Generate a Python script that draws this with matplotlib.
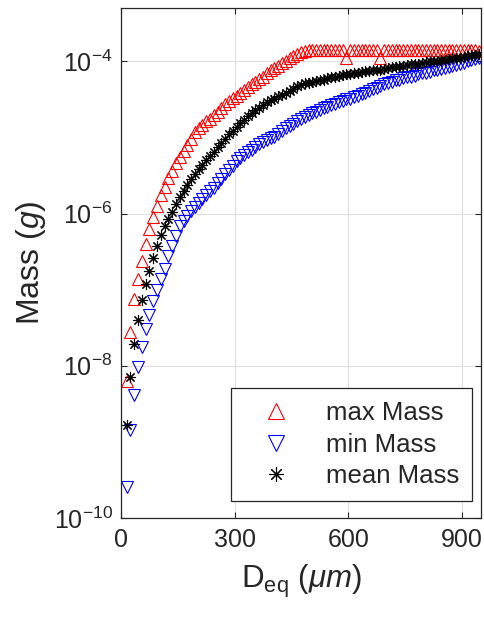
import numpy as np
import matplotlib
matplotlib.use('Agg')
import matplotlib.pyplot as plt
from matplotlib.ticker import LogFormatterMathtext, NullLocator

plt.rcParams['font.family'] = ['Liberation Sans', 'DejaVu Sans']
plt.rcParams['mathtext.fontset'] = 'custom'
plt.rcParams['mathtext.rm'] = 'Liberation Sans'
plt.rcParams['mathtext.it'] = 'Liberation Sans:italic'

# equivalent diameter bins (um)
d_eq = [15, 25, 35, 45, 55, 65, 75, 85, 95, 105,
        115, 125, 135, 145, 155, 165, 175, 185, 195, 205,
        215, 225, 235, 245, 255, 265, 275, 285, 295, 305,
        315, 325, 335, 345, 355, 365, 375, 385, 395, 405,
        415, 425, 435, 445, 455, 465, 475, 485, 495, 505,
        515, 525, 535, 545, 555, 565, 575, 585, 595, 605,
        615, 625, 635, 645, 655, 665, 675, 685, 695, 705,
        715, 725, 735, 745, 755, 765, 775, 785, 795, 805,
        815, 825, 835, 845, 855, 865, 875, 885, 895, 905,
        915, 925, 935, 945]

# log10 of mass (g)
log_max_mass = [-8.20, -7.56, -7.12, -6.86, -6.62, -6.40, -6.20, -6.04, -5.90, -5.76,
                -5.65, -5.53, -5.44, -5.34, -5.26, -5.18, -5.10, -5.02, -4.93, -4.88,
                -4.84, -4.79, -4.76, -4.70, -4.66, -4.62, -4.56, -4.52, -4.48, -4.45,
                -4.42, -4.38, -4.34, -4.30, -4.27, -4.23, -4.20, -4.16, -4.12, -4.09,
                -4.06, -4.02, -3.99, -3.96, -3.93, -3.90, -3.88, -3.86, -3.85, -3.85,
                -3.85, -3.85, -3.85, -3.85, -3.85, -3.85, -3.85, -3.85, -3.95, -3.85,
                -3.85, -3.85, -3.85, -3.85, -3.85, -3.85, -3.85, -3.95, -3.85, -3.85,
                -3.85, -3.85, -3.85, -3.85, -3.85, -3.85, -3.85, -3.85, -3.85, -3.85,
                -3.85, -3.85, -3.85, -3.85, -3.85, -3.85, -3.85, -3.85, -3.85, -3.85,
                -3.85, -3.85, -3.85, -3.86]

log_min_mass = [-9.59, -8.84, -8.39, -8.02, -7.75, -7.52, -7.33, -7.15, -7.00, -6.86,
                -6.73, -6.56, -6.43, -6.30, -6.17, -6.10, -6.03, -5.97, -5.91, -5.86,
                -5.81, -5.76, -5.71, -5.67, -5.60, -5.54, -5.48, -5.43, -5.37, -5.31,
                -5.27, -5.23, -5.19, -5.16, -5.12, -5.09, -5.06, -5.03, -5.01, -4.99,
                -4.95, -4.92, -4.88, -4.85, -4.82, -4.78, -4.76, -4.73, -4.70, -4.68,
                -4.66, -4.64, -4.62, -4.60, -4.58, -4.56, -4.54, -4.52, -4.50, -4.49,
                -4.47, -4.45, -4.43, -4.41, -4.39, -4.37, -4.35, -4.33, -4.30, -4.28,
                -4.27, -4.25, -4.24, -4.22, -4.21, -4.20, -4.19, -4.17, -4.16, -4.15,
                -4.14, -4.12, -4.11, -4.10, -4.09, -4.08, -4.06, -4.05, -4.03, -4.02,
                -4.00, -3.98, -3.97, -3.95]

log_mean_mass = [-8.78, -8.15, -7.72, -7.40, -7.13, -6.93, -6.76, -6.58, -6.43, -6.28,
                 -6.17, -6.07, -5.98, -5.88, -5.78, -5.70, -5.62, -5.55, -5.48, -5.42,
                 -5.36, -5.30, -5.24, -5.19, -5.13, -5.08, -5.02, -4.96, -4.91, -4.86,
                 -4.81, -4.77, -4.72, -4.68, -4.64, -4.61, -4.57, -4.54, -4.51, -4.49,
                 -4.46, -4.44, -4.41, -4.39, -4.36, -4.33, -4.31, -4.29, -4.28, -4.27,
                 -4.26, -4.25, -4.24, -4.22, -4.21, -4.20, -4.19, -4.18, -4.17, -4.17,
                 -4.16, -4.15, -4.14, -4.13, -4.13, -4.12, -4.11, -4.11, -4.10, -4.09,
                 -4.08, -4.07, -4.06, -4.06, -4.05, -4.04, -4.04, -4.03, -4.02, -4.01,
                 -4.00, -4.00, -3.99, -3.98, -3.98, -3.97, -3.96, -3.96, -3.95, -3.94,
                 -3.93, -3.92, -3.92, -3.91]

x = np.array(d_eq)
max_mass = 10.0 ** np.array(log_max_mass)
min_mass = 10.0 ** np.array(log_min_mass)
mean_mass = 10.0 ** np.array(log_mean_mass)

axis_col = '#262626'

fig = plt.figure(figsize=(4.85, 6.24), dpi=100)
ax = fig.add_axes([0.2495, 0.170, 0.742, 0.817])

ax.plot(x, max_mass, linestyle='none', marker='^', markersize=9,
        markerfacecolor='none', markeredgecolor='r', markeredgewidth=0.8, label='max Mass')
ax.plot(x, min_mass, linestyle='none', marker='v', markersize=9,
        markerfacecolor='none', markeredgecolor='b', markeredgewidth=0.8, label='min Mass')
ax.plot(x, mean_mass, linestyle='none', marker=(8, 2, 0), markersize=8,
        markeredgecolor='k', color='k', markeredgewidth=0.8, label='mean Mass')

ax.set_yscale('log')
ax.set_xlim(0, 950)
ax.set_ylim(1e-10, 5e-4)
ax.set_xticks([0, 300, 600, 900])
ax.set_yticks([1e-10, 1e-8, 1e-6, 1e-4])
ax.yaxis.set_major_formatter(LogFormatterMathtext())
ax.yaxis.set_minor_locator(NullLocator())

ax.grid(True, color='#dfdfdf', linewidth=0.8)
ax.set_axisbelow(True)
ax.tick_params(direction='in', top=True, right=True, length=4, width=0.8,
               colors=axis_col, labelsize=18)
ax.tick_params(axis='x', pad=7)
ax.tick_params(axis='y', pad=6)
for s in ax.spines.values():
    s.set_color(axis_col)
    s.set_linewidth(0.9)

ax.set_xlabel(r'D$_{\mathregular{eq}}$ ($\mu m$)', fontsize=22.5, color=axis_col, labelpad=8)
ax.set_ylabel(r'Mass ($g$)', fontsize=23, color=axis_col, labelpad=4)

leg = ax.legend(loc='lower right', bbox_to_anchor=(0.975, 0.033), borderaxespad=0,
                fontsize=18.5, markerscale=1.3, handlelength=2.5, handletextpad=0.7,
                labelspacing=0.3, borderpad=0.5, fancybox=False, framealpha=1)
leg.get_frame().set_edgecolor(axis_col)
leg.get_frame().set_linewidth(0.9)
for t in leg.get_texts():
    t.set_color(axis_col)

fig.savefig('out.png', dpi=100)
